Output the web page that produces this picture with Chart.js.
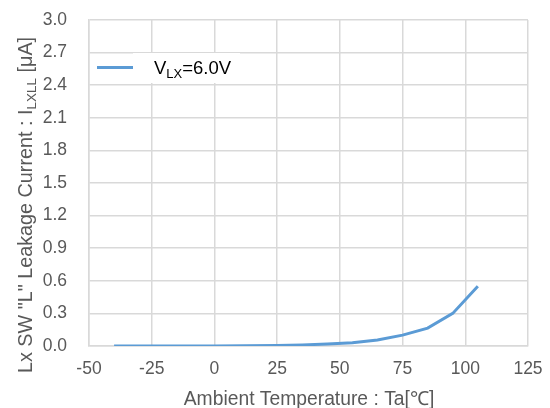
<!DOCTYPE html>
<html>
<head>
<meta charset="utf-8">
<script src="https://cdn.jsdelivr.net/npm/chart.js@4"></script>
<style>
  body { margin: 0; background: #fff; }
  #wrap { width: 550px; height: 408px; position: relative; }
</style>
</head>
<body>
<div id="wrap"><canvas id="leakChart"></canvas></div>
<script>
// temperature [degC] and leakage current [uA]
const temps = [-40, -25, 0, 25, 35, 45, 55, 65, 75, 85, 95, 105];
const leak = [0.0, 0.0, 0.0, 0.004, 0.01, 0.018, 0.03, 0.055, 0.1, 0.165, 0.30, 0.55];
const xTicks = [-50, -25, 0, 25, 50, 75, 100, 125];
const yTicks = [0, 0.3, 0.6, 0.9, 1.2, 1.5, 1.8, 2.1, 2.4, 2.7, 3.0];

const FONT = "'Liberation Sans', Arial, sans-serif";
const lineColor = "#5B9BD5";

// draws text with a subscript part
function subText(ctx, parts, x, y, big, small) {
  let cx = x;
  parts.forEach(p => {
    ctx.font = (p.sub ? small : big) + "px " + FONT;
    ctx.fillText(p.t, cx, y + (p.sub ? 4 : 0));
    cx += ctx.measureText(p.t).width;
  });
  return cx - x;
}
function subWidth(ctx, parts, big, small) {
  let w = 0;
  parts.forEach(p => {
    ctx.font = (p.sub ? small : big) + "px " + FONT;
    w += ctx.measureText(p.t).width;
  });
  return w;
}

const extras = {
  id: 'extras',
  beforeDatasetsDraw(chart) {
    const ctx = chart.ctx;
    ctx.save();
    ctx.fillStyle = "#fff";
    ctx.fillRect(133, 53, 107, 30);
    ctx.restore();
  },
  afterDraw(chart) {
    const ctx = chart.ctx;
    ctx.save();
    // legend
    ctx.strokeStyle = lineColor;
    ctx.lineWidth = 3;
    ctx.beginPath();
    ctx.moveTo(97, 67.5);
    ctx.lineTo(133, 67.5);
    ctx.stroke();
    ctx.fillStyle = "#000";
    ctx.textBaseline = "alphabetic";
    subText(ctx, [{t: "V"}, {t: "LX", sub: true}, {t: "=6.0V"}], 154, 74, 18.5, 13);

    // x title
    ctx.fillStyle = "#595959";
    ctx.font = "19.3px " + FONT;
    ctx.textAlign = "center";
    ctx.fillText("Ambient Temperature : Ta[℃]", 309, 405);

    // y title (rotated)
    const yparts = [{t: "Lx SW \"L\" Leakage Current : I"}, {t: "LXLL", sub: true}, {t: " [μA]"}];
    ctx.textAlign = "left";
    const w = subWidth(ctx, yparts, 19.8, 13.5);
    ctx.translate(32, 205);
    ctx.rotate(-Math.PI / 2);
    subText(ctx, yparts, -w / 2, 0, 19.8, 13.5);
    ctx.restore();
  }
};

new Chart(document.getElementById('leakChart').getContext('2d'), {
  type: 'line',
  data: {
    datasets: [{
      label: "VLX=6.0V",
      data: temps.map((t, i) => ({x: t, y: leak[i]})),
      borderColor: lineColor,
      backgroundColor: lineColor,
      borderWidth: 3,
      pointRadius: 0,
      tension: 0,
      fill: false
    }]
  },
  options: {
    responsive: true,
    maintainAspectRatio: false,
    animation: false,
    layout: { padding: { top: 20, right: 22, left: 0, bottom: 0 } },
    plugins: {
      legend: { display: false },
      tooltip: { enabled: false }
    },
    scales: {
      x: {
        type: 'linear',
        min: -50,
        max: 125,
        afterBuildTicks: s => { s.ticks = xTicks.map(v => ({value: v})); },
        ticks: { color: "#595959", font: { family: FONT, size: 17.5 }, padding: 13, maxRotation: 0 },
        grid: { color: "#d9d9d9", lineWidth: 1.5, drawTicks: false },
        border: { color: "#d9d9d9", width: 1.5 },
        afterFit: s => { s.height = 62; s.paddingLeft = 0; s.paddingRight = 0; }
      },
      y: {
        min: 0,
        max: 3.0,
        afterBuildTicks: s => { s.ticks = yTicks.map(v => ({value: v})); },
        ticks: { color: "#595959", font: { family: FONT, size: 17.5 }, padding: 22,
          callback: v => Number(v).toFixed(1) },
        grid: { color: "#d9d9d9", lineWidth: 1.5, drawTicks: false },
        border: { color: "#d9d9d9", width: 1.5 },
        afterFit: s => { s.width = 89; s.paddingTop = 0; s.paddingBottom = 0; }
      }
    }
  },
  plugins: [extras]
});
</script>
</body>
</html>
